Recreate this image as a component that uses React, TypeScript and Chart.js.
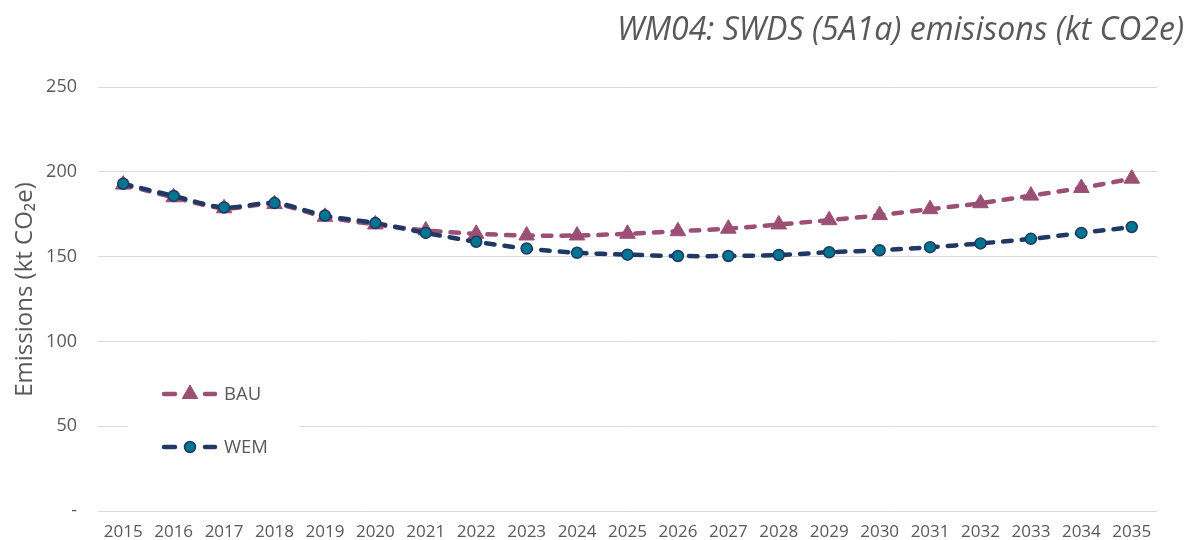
import React, { useEffect, useRef } from "react";
import { Chart, registerables } from "chart.js";

Chart.register(...registerables);

const years = ["2015","2016","2017","2018","2019","2020","2021","2022","2023","2024","2025","2026","2027","2028","2029","2030","2031","2032","2033","2034","2035"];
const bau = [192.5, 185, 178.5, 181, 173.5, 169, 165.5, 163.5, 162.5, 162.5, 163.5, 165, 166.5, 169, 171.5, 174.5, 178, 181.5, 186, 190.5, 196];
const wem = [193, 185.8, 179, 181.6, 174.2, 169.8, 164, 158.8, 154.8, 152.3, 151.2, 150.4, 150.4, 151, 152.6, 153.8, 155.6, 157.8, 160.5, 164, 167.5];
const yTicks = [0, 50, 100, 150, 200, 250];

const TITLE = "WM04: SWDS (5A1a) emisisons (kt CO2e)";
const Y_TITLE = "Emissions (kt CO\u2082e)";
const GREY = "#595959";
const FONT = "'Open Sans', 'Noto Sans', sans-serif";

const BAU_COLOR = "#9B4F74";
const WEM_LINE = "#1F3864";
const WEM_FILL = "#00758F";

function drawMarker(ctx: CanvasRenderingContext2D, ds: any, x: number, y: number) {
  const r = ds.pointRadius;
  ctx.save();
  ctx.fillStyle = ds.pointBackgroundColor;
  ctx.strokeStyle = ds.pointBorderColor;
  ctx.lineWidth = ds.pointBorderWidth;
  ctx.beginPath();
  if (ds.pointStyle === "triangle") {
    for (let i = 0; i < 3; i++) {
      const a = (i * 2 * Math.PI) / 3;
      const px = x + Math.sin(a) * r;
      const py = y - Math.cos(a) * r;
      if (i === 0) ctx.moveTo(px, py);
      else ctx.lineTo(px, py);
    }
    ctx.closePath();
  } else {
    ctx.arc(x, y, r, 0, Math.PI * 2);
  }
  ctx.fill();
  ctx.stroke();
  ctx.restore();
}

const legendPlugin = {
  id: "customLegend",
  afterDraw(chart: any) {
    const ctx = chart.ctx;
    ctx.save();
    ctx.fillStyle = "#ffffff";
    ctx.fillRect(128, 368, 172, 104);
    const rows = [
      { ds: chart.data.datasets[0], y: 394 },
      { ds: chart.data.datasets[1], y: 447 },
    ];
    rows.forEach(({ ds, y }) => {
      ctx.save();
      ctx.strokeStyle = ds.borderColor;
      ctx.lineWidth = ds.borderWidth;
      ctx.lineCap = "round";
      ctx.beginPath();
      ctx.moveTo(164, y);
      ctx.lineTo(175, y);
      ctx.moveTo(205, y);
      ctx.lineTo(215, y);
      ctx.stroke();
      ctx.restore();
      drawMarker(ctx, ds, 190, y);
      ctx.fillStyle = GREY;
      ctx.font = `18.5px ${FONT}`;
      ctx.textBaseline = "middle";
      ctx.textAlign = "left";
      ctx.fillText(ds.label, 224, y + 1);
    });
    ctx.restore();
  },
};

const titlePlugin = {
  id: "customTitle",
  afterDraw(chart: any) {
    const ctx = chart.ctx;
    ctx.save();
    ctx.fillStyle = GREY;
    ctx.font = `italic 32px ${FONT}`;
    ctx.textAlign = "right";
    ctx.textBaseline = "alphabetic";
    ctx.fillText(TITLE, 1184, 40);
    ctx.restore();
    ctx.save();
    ctx.translate(32, 289.5);
    ctx.rotate(-Math.PI / 2);
    ctx.fillStyle = GREY;
    ctx.font = `24px ${FONT}`;
    ctx.textAlign = "center";
    ctx.textBaseline = "alphabetic";
    ctx.fillText(Y_TITLE, 0, 0);
    ctx.restore();
  },
};

export default function App() {
  const ref = useRef<HTMLCanvasElement | null>(null);
  useEffect(() => {
    if (!ref.current) return;
    const chart = new Chart(ref.current, {
      type: "line",
      data: {
        labels: years,
        datasets: [
          {
            label: "BAU",
            data: bau,
            borderColor: BAU_COLOR,
            backgroundColor: BAU_COLOR,
            borderWidth: 4.5,
            borderDash: [8.5, 10],
            borderCapStyle: "round",
            pointStyle: "triangle",
            pointRadius: 9,
            pointBackgroundColor: BAU_COLOR,
            pointBorderColor: BAU_COLOR,
            pointBorderWidth: 1,
            tension: 0.3,
            order: 2,
          },
          {
            label: "WEM",
            data: wem,
            borderColor: WEM_LINE,
            backgroundColor: WEM_FILL,
            borderWidth: 4.5,
            borderDash: [8.5, 10],
            borderCapStyle: "round",
            pointStyle: "circle",
            pointRadius: 5.5,
            pointBackgroundColor: WEM_FILL,
            pointBorderColor: WEM_LINE,
            pointBorderWidth: 1.5,
            tension: 0.3,
            order: 1,
          },
        ],
      },
      options: {
        responsive: false,
        animation: false,
        layout: { padding: { top: 87, right: 30, bottom: 0, left: 0 } },
        plugins: {
          legend: { display: false },
          title: { display: false },
          tooltip: { enabled: false },
        },
        scales: {
          x: {
            offset: true,
            afterFit(scale: any) {
              scale.height = 27;
            },
            grid: { display: false, drawTicks: false },
            border: { display: false },
            ticks: {
              color: GREY,
              font: { family: FONT, size: 17 },
              padding: 11,
              maxRotation: 0,
              autoSkip: false,
            },
          },
          y: {
            min: 0,
            max: 250,
            afterBuildTicks(scale: any) {
              scale.ticks = yTicks.map((v) => ({ value: v }));
            },
            afterFit(scale: any) {
              scale.width = 98;
            },
            grid: { color: "#D9D9D9", lineWidth: 1, drawTicks: false },
            border: { display: false },
            ticks: {
              color: GREY,
              font: { family: FONT, size: 18 },
              padding: 21,
              callback: (v: any) => (Number(v) === 0 ? "-" : String(v)),
            },
            title: { display: false },
          },
        },
      },
      plugins: [legendPlugin, titlePlugin],
    });
    return () => chart.destroy();
  }, []);
  return (
    <div style={{ position: "fixed", left: 0, top: 0, width: 1187, height: 540, overflow: "hidden", background: "#fff" }}>
      <canvas ref={ref} width={1187} height={543} style={{ display: "block", width: 1187, height: 543 }} />
    </div>
  );
}
